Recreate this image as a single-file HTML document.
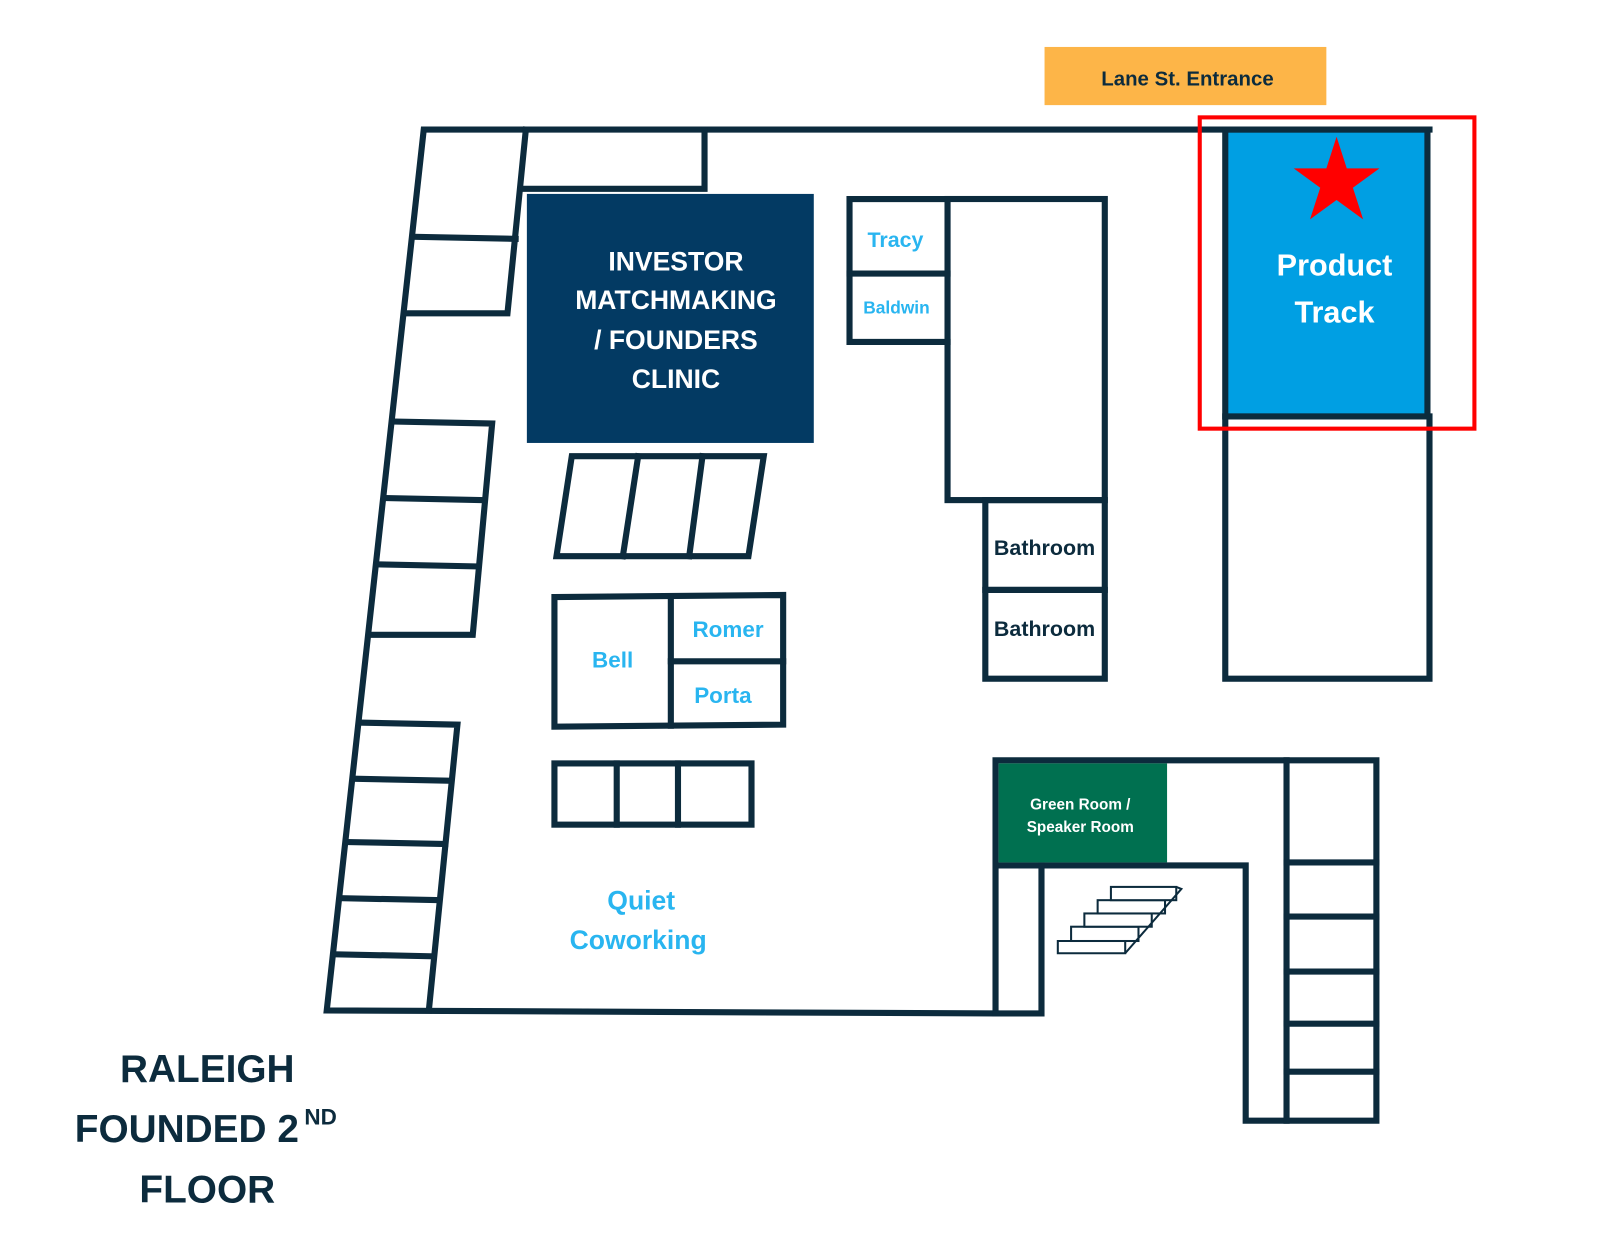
<!DOCTYPE html>
<html><head><meta charset="utf-8"><style>
html,body{margin:0;padding:0;background:#fff}
svg{display:block}
text{font-family:"Liberation Sans",sans-serif;font-weight:bold;text-anchor:middle}
</style></head><body>
<svg width="1600" height="1238" viewBox="0 0 1567 1213" preserveAspectRatio="none" xmlns="http://www.w3.org/2000/svg">
<g stroke="#0c2b3d" stroke-width="6" fill="none" stroke-linecap="square">
<polyline points="1400,127 415,127 320,990 975,993"/>
<polyline points="515,127 497,307 398,307"/>
<line x1="405" y1="232" x2="505" y2="234"/>
<polyline points="386,413 482,415 463,622 362,622"/>
<line x1="377" y1="488" x2="473" y2="490"/>
<line x1="370" y1="553" x2="468" y2="555"/>
<polyline points="352,708 448,710 420,990"/>
<line x1="346" y1="763" x2="442" y2="765"/>
<line x1="339" y1="825" x2="436" y2="827"/>
<line x1="333" y1="880" x2="430" y2="882"/>
<line x1="327" y1="935" x2="424" y2="937"/>
<polyline points="690,127 690,185 512,185"/>
<polygon points="560,447 748,447 733,545 545,545"/>
<line x1="625" y1="447" x2="610" y2="545"/>
<line x1="688" y1="447" x2="675" y2="545"/>
<polygon points="543,585 767,583 767,710 543,712"/>
<line x1="657" y1="585" x2="657" y2="711"/>
<line x1="657" y1="648" x2="767" y2="648"/>
<rect x="543" y="748" width="193" height="60"/>
<line x1="604" y1="748" x2="604" y2="808"/>
<line x1="664" y1="748" x2="664" y2="808"/>
<polyline points="928,195 832,195 832,335 928,335"/>
<line x1="832" y1="268" x2="928" y2="268"/>
<rect x="928" y="195" width="154" height="295"/>
<rect x="965" y="490" width="117" height="88"/>
<rect x="965" y="578" width="117" height="87"/>
<rect x="1200" y="408" width="200" height="257"/>
<polyline points="975,993 975,745 1348,745 1348,1098 1220,1098 1220,848 975,848"/>
<polyline points="1020,848 1020,993 975,993"/>
<line x1="1260" y1="745" x2="1260" y2="1098"/>
<line x1="1260" y1="845" x2="1348" y2="845"/>
<line x1="1260" y1="898" x2="1348" y2="898"/>
<line x1="1260" y1="952" x2="1348" y2="952"/>
<line x1="1260" y1="1003" x2="1348" y2="1003"/>
<line x1="1260" y1="1050" x2="1348" y2="1050"/>
</g>
<rect x="516" y="190" width="281" height="244" fill="#033a63"/>
<text fill="#fff" font-size="26" x="662" y="265">INVESTOR</text>
<text fill="#fff" font-size="26" x="662" y="303">MATCHMAKING</text>
<text fill="#fff" font-size="26" x="662" y="342">/ FOUNDERS</text>
<text fill="#fff" font-size="26" x="662" y="380">CLINIC</text>
<rect x="1200" y="127" width="198" height="281" fill="#009fe3" stroke="#0c2b3d" stroke-width="6"/>
<polygon fill="#f00" points="1309,134 1319,165 1351,165 1325,184 1335,215 1309,196 1283,215 1293,184 1267,165 1299,165"/>
<text fill="#fff" font-size="30" x="1307" y="270">Product</text>
<text fill="#fff" font-size="30" x="1307" y="316">Track</text>
<rect x="1175" y="115" width="269" height="305" fill="none" stroke="#f00" stroke-width="4"/>
<rect x="978" y="748" width="165" height="97" fill="#007050"/>
<text fill="#fff" font-size="15" x="1058" y="793">Green Room /</text>
<text fill="#fff" font-size="15" x="1058" y="815">Speaker Room</text>
<rect x="1023" y="46" width="276" height="57" fill="#fdb548"/>
<text fill="#0c2b3d" font-size="20" x="1163" y="84">Lane St. Entrance</text>
<g stroke="#0c2b3d" stroke-width="2" fill="#fff">
<polygon points="1036,922 1102,922 1102,934 1036,934"/>
<rect x="1049" y="908" width="66" height="14"/>
<rect x="1062" y="895" width="66" height="13"/>
<rect x="1075" y="882" width="66" height="13"/>
<rect x="1088" y="869" width="64" height="13"/>
<polyline points="1152,869 1157,871 1102,934" fill="none"/>
</g>
<g fill="#29b5f0">
<text font-size="21" x="877" y="242">Tracy</text>
<text font-size="17" x="878" y="307">Baldwin</text>
<text font-size="22" x="600" y="654">Bell</text>
<text font-size="22" x="713" y="624">Romer</text>
<text font-size="22" x="708" y="689">Porta</text>
<text font-size="26" x="628" y="891">Quiet</text>
<text font-size="26" x="625" y="930">Coworking</text>
</g>
<text fill="#0c2b3d" font-size="21" x="1023" y="544">Bathroom</text>
<text fill="#0c2b3d" font-size="21" x="1023" y="623">Bathroom</text>
<g fill="#0c2b3d" font-size="38">
<text x="203" y="1060">RALEIGH</text>
<text x="183" y="1119">FOUNDED 2</text>
<text x="314" y="1102" font-size="22">ND</text>
<text x="203" y="1178">FLOOR</text>
</g>
</svg>
</body></html>
